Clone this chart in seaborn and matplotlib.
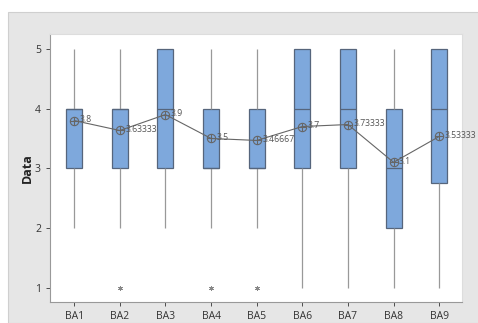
import numpy as np
import pandas as pd
import matplotlib
matplotlib.use("Agg")
import matplotlib.pyplot as plt
from matplotlib.patches import Rectangle
import seaborn as sns

sns.set_theme(style="white")
plt.rcParams['font.family'] = ['Open Sans', 'DejaVu Sans']

groups  = ['BA1', 'BA2', 'BA3', 'BA4', 'BA5', 'BA6', 'BA7', 'BA8', 'BA9']
ratings = [1, 2, 3, 4, 5]
# how many answers of each rating (1..5) per group
counts = {
    'BA1': [0, 2, 8, 14, 6],
    'BA2': [1, 2, 10, 11, 6],
    'BA3': [0, 2, 8, 11, 9],
    'BA4': [1, 3, 12, 8, 6],
    'BA5': [1, 3, 13, 7, 6],
    'BA6': [3, 3, 3, 12, 9],
    'BA7': [3, 3, 3, 11, 10],
    'BA8': [3, 6, 8, 11, 2],
    'BA9': [5, 10, 10, 18, 17],
}

rows = []
for g in groups:
    for r, c in zip(ratings, counts[g]):
        rows += [(g, r)] * c
df = pd.DataFrame(rows, columns=['group', 'Data'])

fig = plt.figure(figsize=(4.78, 3.23), dpi=100, facecolor='white')
fig.patches.append(Rectangle((8/478, 0), 1, 1 - 12/323, transform=fig.transFigure,
                             facecolor='#e6e6e6', edgecolor='#cfcfcf', lw=0.8, zorder=-10))
ax = fig.add_axes([50/478, 21/323, 412/478, 268/323])
ax.set_facecolor('white')

sns.boxplot(data=df, x='group', y='Data', order=groups, ax=ax, width=0.35,
            color='#7ea8dc', saturation=1, linewidth=0.9,
            boxprops=dict(edgecolor='#56657c'),
            whiskerprops=dict(color='#999999'),
            capprops=dict(visible=False),
            medianprops=dict(color='#56657c'),
            flierprops=dict(marker=(6, 2, 0), markersize=3.5, markeredgecolor='#888888',
                            markeredgewidth=0.6))

means = df.groupby('group')['Data'].mean().reindex(groups)
sns.pointplot(data=df, x='group', y='Data', order=groups, errorbar=None, ax=ax,
              color='#666666', linewidth=0.8, markers='o', markersize=6,
              markerfacecolor='none', markeredgewidth=0.8)
sns.scatterplot(x=np.arange(len(groups)), y=means.values, marker='+', s=30,
                color='#666666', linewidth=0.8, ax=ax, zorder=5)
for i, m in enumerate(means.values):
    ax.annotate(f"{m:.6g}", (i, m), xytext=(4, 0.5), textcoords='offset points',
                va='center', ha='left', fontsize=6.3, color='#555555')

ax.set_xlim(-0.53, 8.5)
ax.set_ylim(0.76, 5.25)
ax.set_yticks([1, 2, 3, 4, 5])
ax.set_xlabel('')
ax.set_ylabel('Data', fontsize=9, fontweight='bold', color='#222222', labelpad=1)
ax.tick_params(axis='both', labelsize=7.5, colors='#333333', length=3, width=0.6,
               direction='out', bottom=True, left=True)
for s in ['top', 'right']:
    ax.spines[s].set_color('#dddddd')
for s in ['left', 'bottom']:
    ax.spines[s].set_color('#999999')
for s in ax.spines.values():
    s.set_linewidth(0.8)

fig.savefig('out.png', dpi=100, facecolor='white')
